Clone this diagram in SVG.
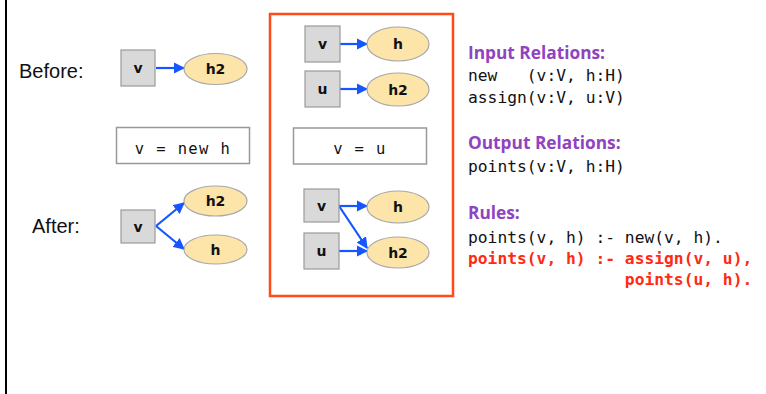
<svg xmlns="http://www.w3.org/2000/svg" width="766" height="394" viewBox="0 0 766 394">
<style>
.var{fill:#d9d9d9;stroke:#9a9a9a;stroke-width:1.2}
.obj{fill:#fde5aa;stroke:#a8a8a8;stroke-width:1.2}
.lbl{font-family:"DejaVu Sans",sans-serif;font-weight:bold;font-size:14px;fill:#111;text-anchor:middle}
.stmt{fill:#fff;stroke:#999;stroke-width:1.5}
.stx{font-family:"DejaVu Sans Mono",monospace;font-size:15.5px;fill:#111;text-anchor:middle;letter-spacing:1.4px}
.side{font-family:"Liberation Sans",Arial,sans-serif;font-size:20px;fill:#111}
.head{font-family:"Open Sans","Noto Sans",sans-serif;font-weight:bold;font-size:17.3px;fill:#9043c0}
.code{font-family:"DejaVu Sans Mono",monospace;font-size:16.3px;fill:#111;white-space:pre}
.red{fill:#ff2a14;font-weight:bold}
.edge{stroke:#1556ff;stroke-width:2.2;fill:none;marker-end:url(#ah)}
</style>
<defs>
<marker id="ah" viewBox="0 0 10 10" refX="9" refY="5" markerWidth="5.2" markerHeight="5.2" orient="auto" markerUnits="strokeWidth">
<path d="M0,0 L10,5 L0,10 z" fill="#1556ff"/>
</marker>
</defs>
<rect width="766" height="394" fill="#fff"/>
<line x1="6" y1="0" x2="6" y2="394" stroke="#000" stroke-width="2"/>

<text class="side" x="19" y="78">Before:</text>
<text class="side" x="32" y="233">After:</text>

<g id="frame">
<rect x="270" y="14" width="183" height="282" fill="none" stroke="#ff4a1a" stroke-width="2.5"/>
</g>

<g id="connectors">
<line class="edge" x1="156" y1="68" x2="184" y2="68"/>
<line class="edge" x1="156" y1="226" x2="184" y2="203"/>
<line class="edge" x1="156" y1="226" x2="184" y2="249"/>
<line class="edge" x1="340" y1="44" x2="367" y2="44"/>
<line class="edge" x1="340" y1="89" x2="367" y2="89"/>
<line class="edge" x1="339" y1="206" x2="367" y2="206"/>
<line class="edge" x1="339" y1="206" x2="367" y2="248"/>
<line class="edge" x1="339" y1="251" x2="367" y2="251"/>
</g>

<g id="before_v"><rect class="var" x="121" y="50" width="34" height="36"/><text class="lbl" x="138" y="73">v</text></g>
<g id="before_h2"><ellipse class="obj" cx="215.5" cy="69" rx="31.5" ry="15.5"/><text class="lbl" x="215.5" y="74">h2</text></g>

<g id="stmt_new"><rect class="stmt" x="116.5" y="127.5" width="133" height="36"/><text class="stx" x="183" y="154">v = new h</text></g>

<g id="after_v"><rect class="var" x="121" y="210" width="34" height="33"/><text class="lbl" x="138" y="232">v</text></g>
<g id="after_h2"><ellipse class="obj" cx="215.5" cy="201" rx="31.5" ry="15"/><text class="lbl" x="215.5" y="206">h2</text></g>
<g id="after_h"><ellipse class="obj" cx="215.5" cy="249.5" rx="31.5" ry="14.5"/><text class="lbl" x="215.5" y="255">h</text></g>

<g id="b2_v"><rect class="var" x="305" y="26" width="35" height="36"/><text class="lbl" x="322.5" y="49">v</text></g>
<g id="b2_h"><ellipse class="obj" cx="398" cy="44" rx="31" ry="17"/><text class="lbl" x="398" y="49">h</text></g>
<g id="b2_u"><rect class="var" x="305" y="71" width="35" height="36"/><text class="lbl" x="322.5" y="94">u</text></g>
<g id="b2_h2"><ellipse class="obj" cx="398" cy="89.5" rx="31" ry="16.5"/><text class="lbl" x="398" y="95">h2</text></g>

<g id="stmt_assign"><rect class="stmt" x="293.5" y="128" width="133" height="36"/><text class="stx" x="360" y="154">v = u</text></g>

<g id="a2_v"><rect class="var" x="304" y="189" width="35" height="33"/><text class="lbl" x="321.5" y="211">v</text></g>
<g id="a2_h"><ellipse class="obj" cx="398" cy="207" rx="31" ry="16"/><text class="lbl" x="398" y="212">h</text></g>
<g id="a2_u"><rect class="var" x="304" y="233" width="35" height="36"/><text class="lbl" x="321.5" y="256">u</text></g>
<g id="a2_h2"><ellipse class="obj" cx="398" cy="252.5" rx="31" ry="15.5"/><text class="lbl" x="398" y="258">h2</text></g>

<g id="relations">
<text class="head" x="468" y="59">Input Relations:</text>
<text class="code" x="468" y="81">new   (v:V, h:H)</text>
<text class="code" x="468" y="103">assign(v:V, u:V)</text>
<text class="head" x="468" y="149">Output Relations:</text>
<text class="code" x="468" y="172">points(v:V, h:H)</text>
<text class="head" x="468" y="219">Rules:</text>
<text class="code" x="468" y="243">points(v, h) :- new(v, h).</text>
<text class="code red" x="468" y="264">points(v, h) :- assign(v, u),</text>
<text class="code red" x="468" y="285">                points(u, h).</text>
</g>
</svg>
